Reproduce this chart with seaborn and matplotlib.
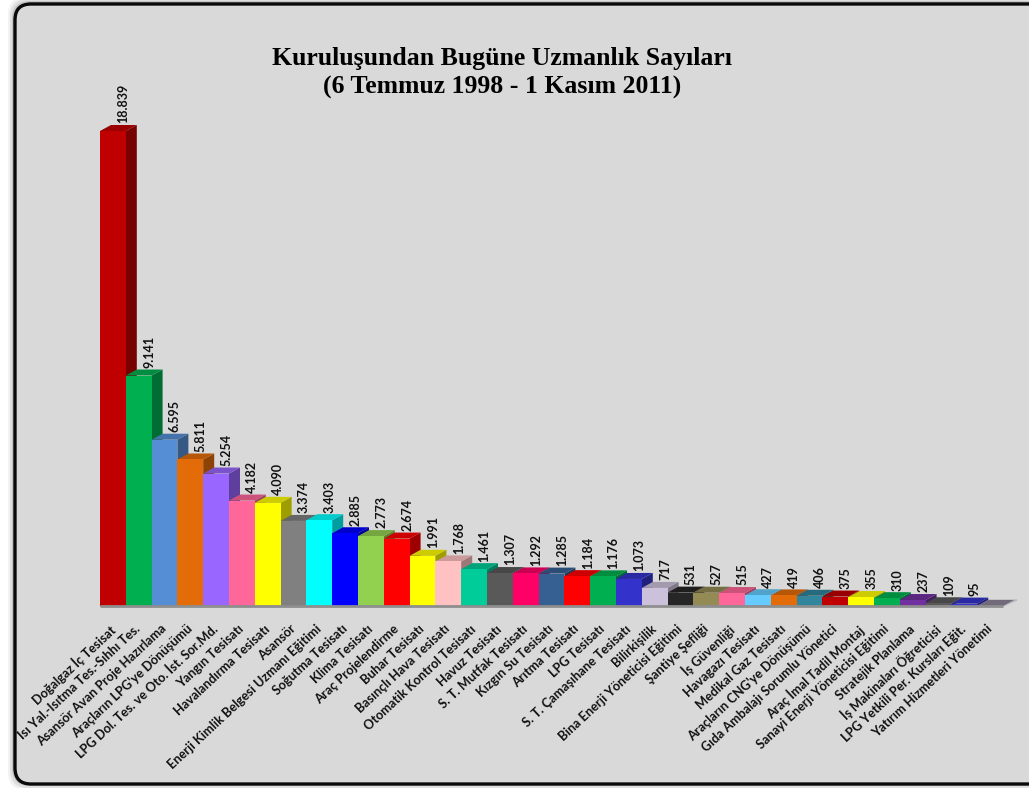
import matplotlib
matplotlib.use("Agg")
import matplotlib.pyplot as plt
import matplotlib.colors as mcolors
from matplotlib.patches import FancyBboxPatch
from matplotlib.transforms import ScaledTranslation
import pandas as pd
import seaborn as sns

# Data
courses = [
    "Doğalgaz İç Tesisat", "Isı Yal.-Isıtma Tes.-Sıhhı Tes.", "Asansör Avan Proje Hazırlama",
    "Araçların LPG'ye Dönüşümü", "LPG Dol. Tes. ve Oto. İst. Sor.Md.", "Yangın Tesisatı",
    "Havalandırma Tesisatı", "Asansör", "Enerji Kimlik Belgesi Uzmanı Eğitimi",
    "Soğutma Tesisatı", "Klima Tesisatı", "Araç Projelendirme", "Buhar Tesisatı",
    "Basınçlı Hava Tesisatı", "Otomatik Kontrol Tesisatı", "Havuz Tesisatı",
    "S. T. Mutfak Tesisatı", "Kızgın Su Tesisatı", "Arıtma Tesisatı", "LPG Tesisatı",
    "S. T. Çamaşıhane Tesisatı", "Bilirkişilik", "Bina Enerji Yöneticisi Eğitimi",
    "Şantiye Şefliği", "İş Güvenliği", "Havagazı Tesisatı", "Medikal Gaz Tesisatı",
    "Araçların CNG'ye Dönüşümü", "Gıda Ambalajı Sorumlu Yönetici", "Araç İmal Tadil Montaj",
    "Sanayi Enerji Yöneticisi Eğitimi", "Stratejik Planlama", "İş Makinaları Öğreticisi",
    "LPG Yetkili Per. Kursları Eğit.", "Yatırım Hizmetleri Yönetimi",
]
counts = [
    18839, 9141, 6595, 5811, 5254, 4182, 4090, 3374, 3403, 2885, 2773, 2674,
    1991, 1768, 1461, 1307, 1292, 1285, 1184, 1176, 1073, 717, 531, 527, 515,
    427, 419, 406, 375, 355, 310, 237, 109, 95, 0,
]
bar_colors = [
    "#C00000", "#00B050", "#558ED5", "#E36C09", "#9966FF", "#FF6699", "#FFFF00",
    "#808080", "#00FFFF", "#0000FF", "#92D050", "#FF0000", "#FFFF00", "#FFC1C1",
    "#00CC99", "#595959", "#FF0066", "#376092", "#FF0000", "#00B050", "#3333CC",
    "#CCC1DA", "#262626", "#948A54", "#FF6699", "#66CCFF", "#E36C09", "#31859C",
    "#C00000", "#FFFF00", "#00B050", "#7030A0", "#595959", "#3333CC", "#8C8599",
]
title_lines = "Kuruluşundan Bugüne Uzmanlık Sayıları\n(6 Temmuz 1998 - 1 Kasım 2011)"

W, H = 1029, 788
BG = "#D9D9D9"
DX, DY = 11, 6  # depth of the fake 3D, pixels


def shade(color, k):
    r, g, b = mcolors.to_rgb(color)
    return (r * k, g * k, b * k)


df = pd.DataFrame({"course": courses, "count": counts})

sns.set_theme(style="white")
plt.rcParams["font.family"] = ["Lato", "DejaVu Sans"]

fig = plt.figure(figsize=(W / 100, H / 100), dpi=100, facecolor="white")

# Panel with blurred shadow, runs off the right edge like the original
panel_ax = fig.add_axes([0, 0, 1, 1], zorder=0)
panel_ax.set_xlim(0, W)
panel_ax.set_ylim(H, 0)
panel_ax.axis("off")
for grow, alpha in [(7, 0.05), (5, 0.08), (3, 0.12), (1.5, 0.18)]:
    panel_ax.add_patch(FancyBboxPatch((15 - grow, 4 - grow), 1060 + grow, 780 + 2 * grow - 1,
                                      boxstyle="round,pad=0,rounding_size=18",
                                      fc="black", ec="none", alpha=alpha))
panel_ax.add_patch(FancyBboxPatch((15, 4), 1060, 780, boxstyle="round,pad=0,rounding_size=16",
                                  fc=BG, ec="#0a0a0a", lw=2.4))

# Axes placed so that the baseline and bar widths land on the original pixels
base_y, top_y = 606, 106
px_per_unit = 475 / 18839
ax = fig.add_axes([100 / W, 1 - base_y / H, 903 / W, (base_y - top_y) / H], zorder=1)
ax.patch.set_alpha(0)

sns.barplot(data=df, x="course", y="count", hue="course", palette=bar_colors,
            width=1.0, dodge=False, legend=False, saturation=1, ax=ax)
ax.set_xlim(-0.5, len(courses) - 0.5)
ax.set_ylim(0, (base_y - top_y) / px_per_unit)
ax.set_xlabel("")
ax.set_ylabel("")
ax.set_yticks([])
sns.despine(ax=ax, left=True, bottom=True)

x_per_px = len(courses) / 903
dx = DX * x_per_px
dy = DY / px_per_unit

# Floor under the bars
n = len(courses)
ax.fill([-0.5, n - 0.5, n - 0.5 + 14 * x_per_px, -0.5 + 14 * x_per_px],
        [0, 0, dy, dy], color="#B8B8B8", zorder=0.5, clip_on=False)
ax.plot([-0.5, n - 0.5], [0, 0], color="#8E8E8E", lw=2, zorder=200, clip_on=False, solid_capstyle="butt")

for i, (bar, color) in enumerate(zip(ax.patches, bar_colors)):
    left = bar.get_x()
    right = left + bar.get_width()
    h = bar.get_height()
    z = 2 + i
    bar.set_zorder(z + 0.5)
    bar.set_linewidth(0)
    ax.fill([right, right + dx, right + dx, right], [0, dy, h + dy, h],
            color=shade(color, 0.62), lw=0, zorder=z, clip_on=False)
    ax.fill([left, right, right + dx, left + dx], [h, h, h + dy, h + dy],
            color=shade(color, 0.8), lw=0, zorder=z, clip_on=False)
    if h > 0:
        ax.annotate(f"{counts[i]:,}".replace(",", "."), (i, h), xytext=(7.5, 5.5),
                    textcoords="offset points", rotation=90, ha="center", va="bottom",
                    fontsize=9, fontweight="bold", color="#111111", zorder=300,
                    annotation_clip=False)

ax.tick_params(axis="x", length=0, pad=12)
ax.set_xticks(range(n))
ax.set_xticklabels(courses, rotation=43, ha="right", va="top", rotation_mode="anchor",
                   fontsize=9.2, fontweight="bold", color="#111111")
shift = ScaledTranslation(-4 / 100, 0, fig.dpi_scale_trans)
for label in ax.get_xticklabels():
    label.set_transform(label.get_transform() + shift)

fig.text(502 / W, 1 - 73 / H, title_lines, ha="center", va="center", linespacing=1.3,
         family="Liberation Serif", fontweight="bold", fontsize=18.5, color="black")

fig.savefig("out.png", dpi=100)
